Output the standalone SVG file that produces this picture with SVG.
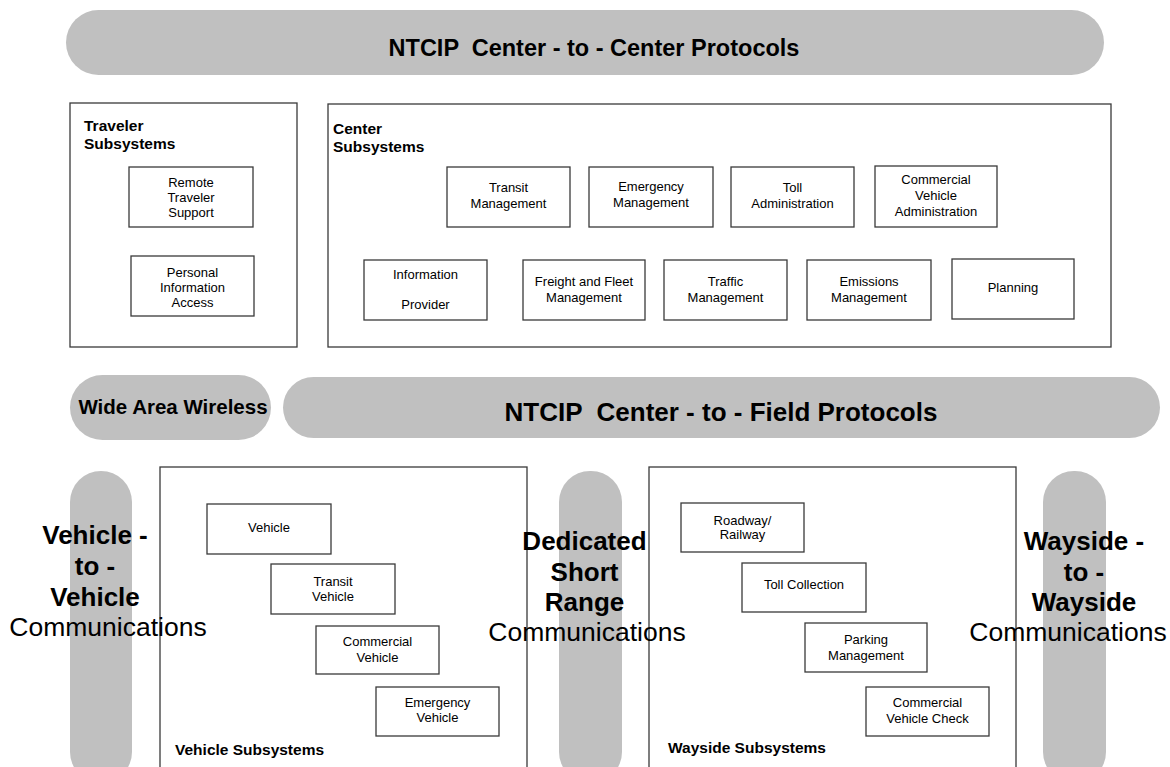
<svg xmlns="http://www.w3.org/2000/svg" width="1170" height="767" viewBox="0 0 1170 767">
  <style>
    text { font-family: "Liberation Sans", Arial, sans-serif; fill: #000; }
    .pill { fill: #c0c0c0; stroke: none; }
    .frame { fill: #fff; stroke: #3a3a3a; stroke-width: 1.3; }
    .box { fill: #fff; stroke: #3a3a3a; stroke-width: 1.3; }
    .lbl { font-size: 13px; text-anchor: middle; }
    .grp { font-size: 15.5px; font-weight: bold; }
    .band { font-weight: bold; text-anchor: middle; white-space: pre; }
    .vb { font-size: 26px; font-weight: bold; text-anchor: middle; }
    .vr { font-size: 26.5px; text-anchor: middle; }
  </style>
  <rect width="1170" height="767" fill="#fff"/>

  <!-- communication bands -->
  <g id="c2c-protocols">
    <rect class="pill" x="66" y="10" width="1038" height="65" rx="32.5"/>
    <text class="band" x="594" y="56" font-size="23.5" xml:space="preserve">NTCIP  Center - to - Center Protocols</text>
  </g>
  <g id="wide-area-wireless">
    <rect class="pill" x="70" y="375" width="201" height="65" rx="32.5"/>
    <text class="band" x="173" y="414" font-size="20.5">Wide Area Wireless</text>
  </g>
  <g id="c2f-protocols">
    <rect class="pill" x="283" y="377" width="877" height="61" rx="30.5"/>
    <text class="band" x="721" y="421" font-size="26" xml:space="preserve">NTCIP  Center - to - Field Protocols</text>
  </g>

  <!-- vertical bands -->
  <g id="v2v-band">
    <rect class="pill" x="70" y="471" width="62" height="312" rx="31"/>
  </g>
  <g id="dsrc-band">
    <rect class="pill" x="559" y="471" width="63" height="312" rx="31"/>
  </g>
  <g id="w2w-band">
    <rect class="pill" x="1043" y="471" width="63" height="312" rx="31"/>
  </g>

  <!-- traveler subsystems -->
  <g id="traveler-subsystems">
    <rect class="frame" x="70" y="103" width="227" height="244"/>
    <text class="grp" x="84" y="131">Traveler</text>
    <text class="grp" x="84" y="149">Subsystems</text>
  </g>
  <g id="remote-traveler-support">
    <rect class="box" x="129" y="167" width="124" height="60"/>
    <text class="lbl" x="191" y="187">Remote</text>
    <text class="lbl" x="191" y="202">Traveler</text>
    <text class="lbl" x="191" y="217">Support</text>
  </g>
  <g id="personal-information-access">
    <rect class="box" x="131" y="256" width="123" height="60"/>
    <text class="lbl" x="192.5" y="277">Personal</text>
    <text class="lbl" x="192.5" y="292">Information</text>
    <text class="lbl" x="192.5" y="307">Access</text>
  </g>

  <!-- center subsystems -->
  <g id="center-subsystems">
    <rect class="frame" x="328" y="104" width="783" height="243"/>
    <text class="grp" x="333" y="134">Center</text>
    <text class="grp" x="333" y="152">Subsystems</text>
  </g>
  <g id="transit-management">
    <rect class="box" x="447" y="167" width="123" height="60"/>
    <text class="lbl" x="508.5" y="192">Transit</text>
    <text class="lbl" x="508.5" y="208">Management</text>
  </g>
  <g id="emergency-management">
    <rect class="box" x="589" y="167" width="124" height="60"/>
    <text class="lbl" x="651" y="191">Emergency</text>
    <text class="lbl" x="651" y="207">Management</text>
  </g>
  <g id="toll-administration">
    <rect class="box" x="731" y="167" width="123" height="60"/>
    <text class="lbl" x="792.5" y="192">Toll</text>
    <text class="lbl" x="792.5" y="208">Administration</text>
  </g>
  <g id="commercial-vehicle-administration">
    <rect class="box" x="875" y="166" width="122" height="61"/>
    <text class="lbl" x="936" y="184">Commercial</text>
    <text class="lbl" x="936" y="200">Vehicle</text>
    <text class="lbl" x="936" y="216">Administration</text>
  </g>
  <g id="information-provider">
    <rect class="box" x="364" y="260" width="123" height="60"/>
    <text class="lbl" x="425.5" y="279">Information</text>
    <text class="lbl" x="425.5" y="309">Provider</text>
  </g>
  <g id="freight-fleet-management">
    <rect class="box" x="523" y="260" width="122" height="60"/>
    <text class="lbl" x="584" y="286">Freight and Fleet</text>
    <text class="lbl" x="584" y="302">Management</text>
  </g>
  <g id="traffic-management">
    <rect class="box" x="664" y="260" width="123" height="60"/>
    <text class="lbl" x="725.5" y="286">Traffic</text>
    <text class="lbl" x="725.5" y="302">Management</text>
  </g>
  <g id="emissions-management">
    <rect class="box" x="807" y="260" width="124" height="60"/>
    <text class="lbl" x="869" y="286">Emissions</text>
    <text class="lbl" x="869" y="302">Management</text>
  </g>
  <g id="planning">
    <rect class="box" x="952" y="259" width="122" height="60"/>
    <text class="lbl" x="1013" y="292">Planning</text>
  </g>

  <!-- vehicle subsystems -->
  <g id="vehicle-subsystems">
    <rect class="frame" x="160" y="467" width="367" height="330"/>
    <text class="grp" x="175" y="755">Vehicle Subsystems</text>
  </g>
  <g id="vehicle">
    <rect class="box" x="207" y="504" width="124" height="50"/>
    <text class="lbl" x="269" y="532">Vehicle</text>
  </g>
  <g id="transit-vehicle">
    <rect class="box" x="271" y="564" width="124" height="50"/>
    <text class="lbl" x="333" y="586">Transit</text>
    <text class="lbl" x="333" y="601">Vehicle</text>
  </g>
  <g id="commercial-vehicle">
    <rect class="box" x="316" y="626" width="123" height="48"/>
    <text class="lbl" x="377.5" y="646">Commercial</text>
    <text class="lbl" x="377.5" y="662">Vehicle</text>
  </g>
  <g id="emergency-vehicle">
    <rect class="box" x="376" y="687" width="123" height="49"/>
    <text class="lbl" x="437.5" y="707">Emergency</text>
    <text class="lbl" x="437.5" y="722">Vehicle</text>
  </g>

  <!-- wayside subsystems -->
  <g id="wayside-subsystems">
    <rect class="frame" x="649" y="467" width="367" height="330"/>
    <text class="grp" x="668" y="753">Wayside Subsystems</text>
  </g>
  <g id="roadway-railway">
    <rect class="box" x="681" y="503" width="123" height="49"/>
    <text class="lbl" x="742.5" y="525">Roadway/</text>
    <text class="lbl" x="742.5" y="539">Railway</text>
  </g>
  <g id="toll-collection">
    <rect class="box" x="742" y="563" width="124" height="49"/>
    <text class="lbl" x="804" y="589">Toll Collection</text>
  </g>
  <g id="parking-management">
    <rect class="box" x="805" y="623" width="122" height="49"/>
    <text class="lbl" x="866" y="644">Parking</text>
    <text class="lbl" x="866" y="660">Management</text>
  </g>
  <g id="commercial-vehicle-check">
    <rect class="box" x="866" y="687" width="123" height="49"/>
    <text class="lbl" x="927.5" y="707">Commercial</text>
    <text class="lbl" x="927.5" y="723">Vehicle Check</text>
  </g>

  <!-- band labels, drawn over frames and bands -->
  <g id="v2v-label">
    <text class="vb" x="95" y="544">Vehicle -</text>
    <text class="vb" x="95" y="575">to -</text>
    <text class="vb" x="95" y="606">Vehicle</text>
    <text class="vr" x="108" y="636">Communications</text>
  </g>
  <g id="dsrc-label">
    <text class="vb" x="584.5" y="550">Dedicated</text>
    <text class="vb" x="584.5" y="581">Short</text>
    <text class="vb" x="584.5" y="611">Range</text>
    <text class="vr" x="587" y="641">Communications</text>
  </g>
  <g id="w2w-label">
    <text class="vb" x="1084" y="550">Wayside -</text>
    <text class="vb" x="1084" y="581">to -</text>
    <text class="vb" x="1084" y="611">Wayside</text>
    <text class="vr" x="1068" y="641">Communications</text>
  </g>
</svg>
